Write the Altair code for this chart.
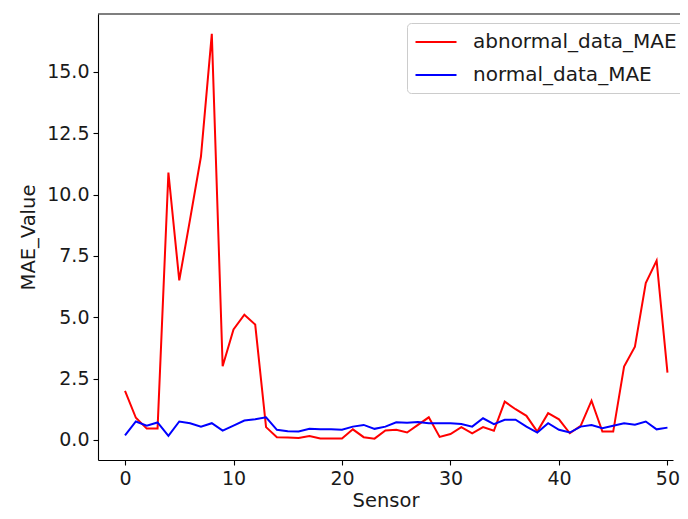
import altair as alt
import pandas as pd

sensors = list(range(51))
abnormal_mae = [2.0, 0.9, 0.46, 0.46, 10.9, 6.5, 9.0, 11.55, 16.55, 3.0,
                4.5, 5.1, 4.7, 0.52, 0.11, 0.1, 0.08, 0.16, 0.06, 0.06,
                0.06, 0.43, 0.11, 0.05, 0.38, 0.41, 0.3, 0.61, 0.92, 0.12,
                0.24, 0.52, 0.27, 0.52, 0.37, 1.56, 1.25, 0.98, 0.34, 1.09,
                0.84, 0.27, 0.57, 1.6, 0.34, 0.34, 2.99, 3.8, 6.39, 7.31, 2.74]
normal_mae = [0.18, 0.75, 0.58, 0.71, 0.16, 0.75, 0.68, 0.54, 0.68, 0.38,
              0.58, 0.79, 0.84, 0.92, 0.41, 0.35, 0.34, 0.45, 0.43, 0.43,
              0.41, 0.54, 0.61, 0.45, 0.54, 0.72, 0.70, 0.73, 0.68, 0.68,
              0.68, 0.65, 0.54, 0.88, 0.64, 0.82, 0.82, 0.54, 0.30, 0.68,
              0.41, 0.30, 0.54, 0.61, 0.48, 0.58, 0.68, 0.62, 0.75, 0.43, 0.50]
series_names = ["abnormal_data_MAE", "normal_data_MAE"]
series_colors = ["#ff0000", "#0000ff"]
x_ticks = [0, 10, 20, 30, 40, 50]
y_ticks = [0, 2.5, 5, 7.5, 10, 12.5, 15]

df = pd.concat([
    pd.DataFrame({"Sensor": sensors, "MAE_Value": abnormal_mae, "series": series_names[0]}),
    pd.DataFrame({"Sensor": sensors, "MAE_Value": normal_mae, "series": series_names[1]}),
])

W, H = 575, 446
LEFT_PAD, RIGHT_PAD = 90, 7
FONT = "DejaVu Sans"
TXT = "#1a1a1a"

lines = alt.Chart(df).mark_line(strokeWidth=2, clip=True).encode(
    x=alt.X("Sensor:Q",
            scale=alt.Scale(domain=[-2.49, 50.51], nice=False, zero=False),
            axis=alt.Axis(values=x_ticks, format="d", grid=False, title="Sensor",
                          titleY=46, titleBaseline="alphabetic")),
    y=alt.Y("MAE_Value:Q",
            scale=alt.Scale(domain=[-0.82, 17.36], nice=False, zero=False),
            axis=alt.Axis(values=y_ticks, format=".1f", grid=False, title="MAE_Value",
                          titleX=-70, titleY=H / 2, titleAngle=-90,
                          titleAlign="center", titleBaseline="middle")),
    color=alt.Color("series:N",
                    scale=alt.Scale(domain=series_names, range=series_colors),
                    legend=alt.Legend(
                        title=None, orient="none", legendX=309, legendY=9,
                        symbolType="M-1.05,0L3.05,0", symbolSize=400,
                        symbolStrokeWidth=2, labelOffset=36, rowPadding=12,
                        padding=8, strokeColor="#cccccc", cornerRadius=4,
                        fillColor="white", labelFontSize=20, labelFont=FONT,
                        labelColor=TXT, labelLimit=400)),
)

top_border = alt.Chart(pd.DataFrame({"v": [0]})).mark_rule(
    color="black", strokeWidth=1.1
).encode(x=alt.value(0), x2=alt.value(W + RIGHT_PAD), y=alt.value(0))

chart = alt.layer(top_border, lines).properties(
    width=W, height=H,
    autosize=alt.AutoSizeParams(type="none"),
    padding={"left": LEFT_PAD, "top": 6, "right": RIGHT_PAD, "bottom": 51},
).configure_view(stroke=None).configure_axis(
    labelFont=FONT, labelFontSize=19, labelColor=TXT,
    titleFont=FONT, titleFontSize=19.5, titleColor=TXT, titleFontWeight="normal",
    tickSize=5, tickColor="black", tickWidth=1.1,
    domainColor="black", domainWidth=1.1, labelPadding=4,
)

chart.save("out.html", embed_options={"renderer": "svg", "actions": False})
